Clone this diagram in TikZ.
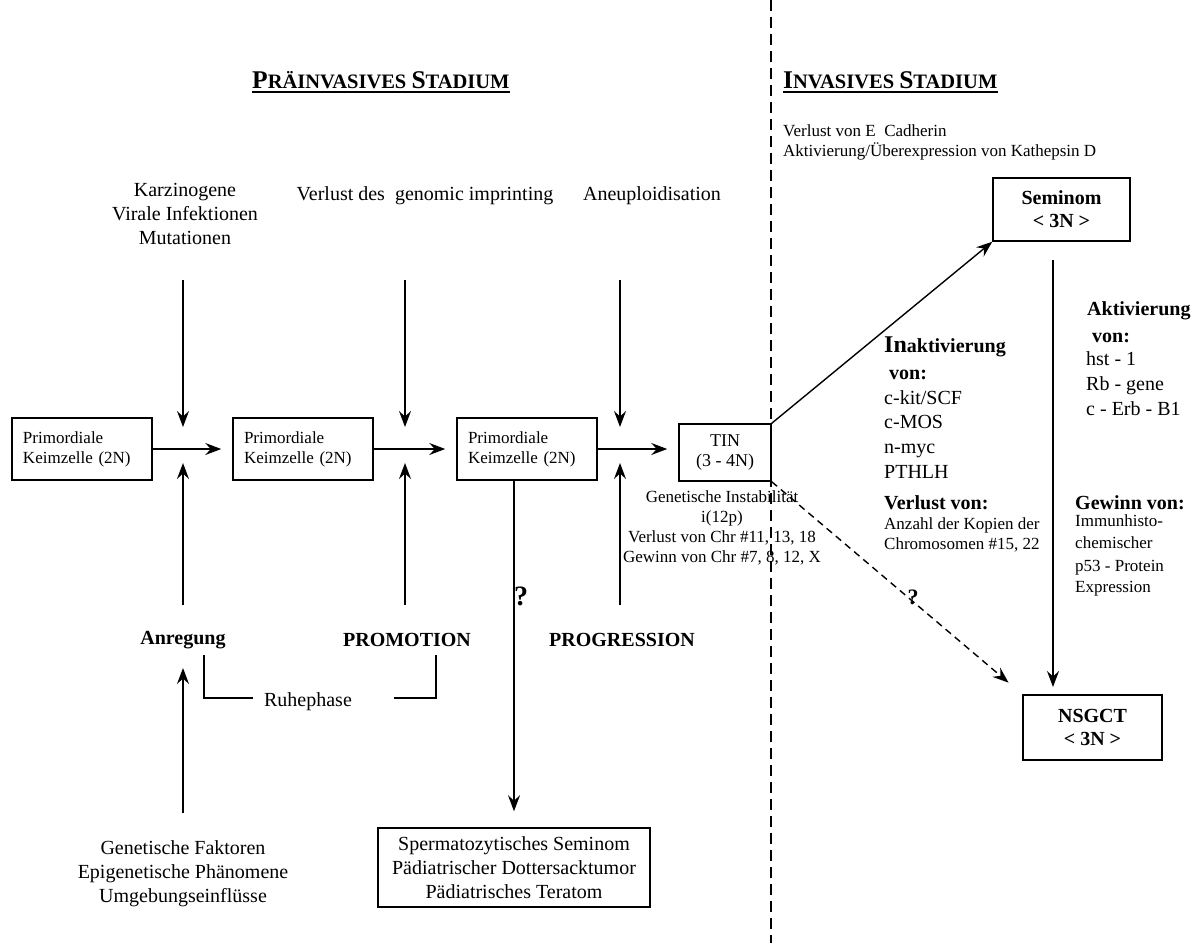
\documentclass[tikz,border=0pt]{standalone}
\usepackage{fontspec}
\setmainfont{Liberation Serif}
\usetikzlibrary{arrows.meta,calc}
\begin{document}
\begin{tikzpicture}[x=1pt,y=-1pt,
  box/.style={draw,line width=1.5pt,inner sep=0pt,align=center},
  pbox/.style={draw,line width=1.5pt,minimum height=62pt,text width=118pt,inner xsep=11pt,inner ysep=0pt,align=left,font=\fontsize{17}{20}\selectfont},
  arr/.style={line width=1.4pt,-{Stealth[length=16pt,width=12pt,inset=5.5pt]}},
  big/.style={font=\fontsize{20}{24}\selectfont,align=center,inner sep=0pt},
  bigb/.style={font=\fontsize{20}{24}\selectfont\bfseries,align=center,inner sep=0pt},
  sm/.style={font=\fontsize{17}{20}\selectfont,align=center,inner sep=0pt},
  lt/.style={anchor=base west,inner sep=0pt,font=\fontsize{20}{24}\selectfont},
  lts/.style={anchor=base west,inner sep=0pt,font=\fontsize{17}{20}\selectfont},
  ltb/.style={anchor=base west,inner sep=0pt,font=\fontsize{20}{24}\selectfont\bfseries},
  ]
\useasboundingbox (0,0) rectangle (1199,943);

% divider
\draw[line width=1.2pt,dash pattern=on 11pt off 6pt] (771,0) -- (771,943);

% headings
\node[anchor=base west,inner sep=0pt] (h1) at (252,88) {\bfseries{\fontsize{25.5}{25.5}\selectfont P}{\fontsize{20.5}{20.5}\selectfont RÄINVASIVES }{\fontsize{25.5}{25.5}\selectfont S}{\fontsize{20.5}{20.5}\selectfont TADIUM}};
\draw[line width=2pt] ($(h1.base west)+(0,4)$) -- ($(h1.base east)+(0,4)$);
\node[anchor=base west,inner sep=0pt] (h2) at (783,88) {\bfseries{\fontsize{25.5}{25.5}\selectfont I}{\fontsize{20.5}{20.5}\selectfont NVASIVES }{\fontsize{25.5}{25.5}\selectfont S}{\fontsize{20.5}{20.5}\selectfont TADIUM}};
\draw[line width=2pt] ($(h2.base west)+(0,4)$) -- ($(h2.base east)+(0,4)$);

\node[lts] (cad1) at (783,136) {Verlust von E\ \ Cadherin};
\node[lts] (cad2) at (783,156) {Aktivierung/Überexpression von Kathepsin D};

% top labels
\node[big] (t1) at (185,214) {Karzinogene\\Virale Infektionen\\Mutationen};
\node[big] (t2) at (425,196) {Verlust des\ \ genomic imprinting};
\node[big] (t3) at (652,196) {Aneuploidisation};

% boxes
\node[pbox] (b1) at (82,449) {Primordiale\\Keimzelle (2N)};
\node[pbox] (b2) at (303,449) {Primordiale\\Keimzelle (2N)};
\node[pbox] (b3) at (527,449) {Primordiale\\Keimzelle (2N)};
\node[box,minimum width=92pt,minimum height=57pt,font=\fontsize{18}{20}\selectfont] (tin) at (725,452.5) {TIN\\(3 - 4N)};

\draw[arr,shorten >=11pt] (b1.east) -- (b2.west);
\draw[arr,shorten >=11pt] (b2.east) -- (b3.west);
\draw[arr,shorten >=11pt] (b3.east) -- (tin.west |- b3.east);

% down arrows from top
\coordinate (d1) at (183,280); \coordinate (d1e) at (183,427);
\coordinate (d2) at (405,280); \coordinate (d2e) at (405,427);
\coordinate (d3) at (620,280); \coordinate (d3e) at (620,427);
\draw[arr] (d1) -- (d1e);
\draw[arr] (d2) -- (d2e);
\draw[arr] (d3) -- (d3e);

% up arrows
\coordinate (u1) at (183,605); \coordinate (u1e) at (183,463);
\coordinate (u2) at (405,605); \coordinate (u2e) at (405,463);
\coordinate (u3) at (620,605); \coordinate (u3e) at (620,463);
\draw[arr] (u1) -- (u1e);
\draw[arr] (u2) -- (u2e);
\draw[arr] (u3) -- (u3e);

\node[bigb] (anr) at (183,640) {Anregung};
\node[bigb] (prom) at (407,640) {PROMOTION};
\node[bigb] (prog) at (622,640) {PROGRESSION};

% Ruhephase bracket
\node[big] (ruhe) at (308,702) {Ruhephase};
\draw[line width=1.2pt] (204,655) -- (204,698) -- (253,698);
\draw[line width=1.2pt] (394,698) -- (436,698) -- (436,655);

% bottom-left factors
\node[big] (gf) at (183,874) {Genetische Faktoren\\Epigenetische Phänomene\\Umgebungseinflüsse};
\coordinate (g1) at (183,813); \coordinate (g1e) at (183,668);
\draw[arr] (g1) -- (g1e);

% box3 down to bottom box
\node[box,minimum width=272pt,minimum height=79pt,font=\fontsize{20}{24}\selectfont] (bot) at (514,867.5) {Spermatozytisches Seminom\\Pädiatrischer Dottersacktumor\\Pädiatrisches Teratom};
\draw[arr,shorten >=16pt] (bot.north |- b3.south) -- (bot.north);
\node[font=\fontsize{28}{28}\selectfont\bfseries,inner sep=0pt] (q1) at (521,596) {?};

% TIN description
\node[sm] (tind) at (722,528) {Genetische Instabilität\\i(12p)\\Verlust von Chr \#11, 13, 18\\Gewinn von Chr \#7, 8, 12, X};

% Invasive
\node[box,minimum width=137pt,minimum height=63pt,font=\fontsize{20}{23}\selectfont\bfseries] (sem) at (1061.5,209.5) {Seminom\\< 3N >};
\node[box,minimum width=139pt,minimum height=65pt,font=\fontsize{20}{23}\selectfont\bfseries] (nsg) at (1092.5,727.5) {NSGCT\\< 3N >};

\draw[arr] (tin.north east) -- (sem.south west);
\draw[arr,dash pattern=on 7pt off 5pt,shorten >=18pt] (tin.south east) -- (nsg.north west);
\node[font=\fontsize{22}{22}\selectfont\bfseries,inner sep=0pt] (q2) at (913,597) {?};
\coordinate (s1) at (1053,260); \coordinate (s1e) at (1053,687);
\draw[arr] (s1) -- (s1e);

% Inaktivierung column
\node[ltb] (ina) at (884,352) {{\fontsize{24}{24}\selectfont In}aktivierung};
\node[ltb] (ina2) at (884,379) {\ von:};
\node[lt] (l1) at (884,404) {c-kit/SCF};
\node[lt] (l2) at (884,428) {c-MOS};
\node[lt] (l3) at (884,453) {n-myc};
\node[lt] (l4) at (884,478) {PTHLH};
\node[ltb] (vl) at (884,509) {Verlust von:};
\node[lts] (vl1) at (884,529) {Anzahl der Kopien der};
\node[lts] (vl2) at (884,549) {Chromosomen \#15, 22};

% Aktivierung column
\node[ltb] (akt) at (1087,315) {Aktivierung};
\node[ltb] (akt2) at (1087,342) {\ von:};
\node[lt] (r1) at (1086,365) {hst - 1};
\node[lt] (r2) at (1086,390) {Rb - gene};
\node[lt] (r3) at (1086,415) {c - Erb - B1};
\node[ltb] (gw) at (1075,509) {Gewinn von:};
\node[lts] (gw1) at (1075,526) {Immunhisto-};
\node[lts] (gw2) at (1075,548) {chemischer};
\node[lts] (gw3) at (1075,571) {p53 - Protein};
\node[lts] (gw4) at (1075,592) {Expression};
\end{tikzpicture}
\end{document}
